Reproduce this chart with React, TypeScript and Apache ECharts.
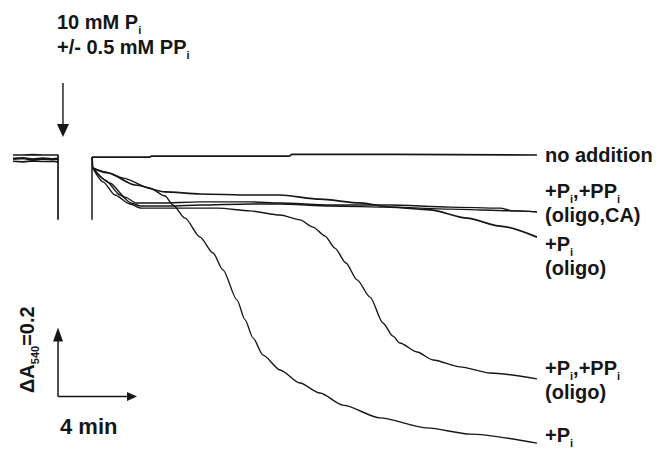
import React, { useEffect, useRef } from "react";
import * as echarts from "echarts";

const FONT = '"Liberation Sans", Arial, Helvetica, sans-serif';
const INK = "#161616";

// axis ranges: time (min, 0 = addition) and ΔA540 relative to baseline
const X_MIN = -4;
const X_MAX = 28;
const Y_MIN = -0.85;
const Y_MAX = 0.4;

// trace before the addition (several overlapping records)
const preT = [-4.0, -3.5, -3.0, -2.5, -2.0, -1.72];
const preA1 = [0.0, 0.0, 0.001, 0.0, 0.0, 0.0];
const preA2 = [-0.011, -0.009, -0.013, -0.01, -0.012, -0.011];
const preA3 = [-0.018, -0.02, -0.017, -0.019, -0.018, -0.02];
const preDropA = -0.188; // mixing artefact at the lid opening
const postStartA = -0.006;

// no addition
const noAddT = [0.0, 2.94, 3.0, 10.0, 10.1, 15.3, 22.53];
const noAddA = [-0.006, -0.006, -0.003, -0.003, 0.002, 0.002, 0.0];

// +Pi
const piT = [0.05, 0.66, 1.57, 2.94, 3.7, 4.1, 4.71, 5.47, 6.13, 6.63, 7.34, 7.75, 8.15, 8.66, 9.52, 10.53, 11.54, 12.71, 14.58, 16.96, 19.14, 22.53];
const piA = [-0.038, -0.049, -0.067, -0.096, -0.119, -0.145, -0.183, -0.238, -0.284, -0.333, -0.42, -0.478, -0.53, -0.58, -0.623, -0.661, -0.69, -0.725, -0.762, -0.791, -0.809, -0.835];

// +Pi,+PPi (oligo)
const piPpiOligoT = [0.05, 0.56, 1.16, 1.92, 2.48, 3.95, 6.38, 8.0, 9.52, 10.53, 11.19, 11.8, 12.3, 12.86, 13.42, 14.08, 14.73, 15.24, 15.59, 16.46, 17.27, 18.63, 20.15, 22.53];
const piPpiOligoA = [-0.038, -0.078, -0.116, -0.142, -0.154, -0.154, -0.154, -0.162, -0.174, -0.188, -0.209, -0.235, -0.27, -0.313, -0.362, -0.412, -0.487, -0.525, -0.545, -0.571, -0.594, -0.614, -0.632, -0.649];

// +Pi (oligo)
const piOligoT = [0.05, 0.81, 2.18, 3.7, 5.47, 8.0, 9.52, 11.54, 13.57, 15.09, 17.11, 18.99, 20.66, 22.53];
const piOligoA = [-0.038, -0.052, -0.087, -0.107, -0.113, -0.116, -0.116, -0.128, -0.139, -0.151, -0.159, -0.183, -0.206, -0.238];

// +Pi,+PPi (oligo,CA) – two overlapping records
const caAT = [0.05, 0.66, 1.42, 1.97, 2.48, 3.95, 5.47, 8.0, 9.52, 12.05, 15.09, 18.13, 21.32, 22.53];
const caAA = [-0.038, -0.072, -0.116, -0.139, -0.148, -0.148, -0.145, -0.142, -0.142, -0.148, -0.151, -0.157, -0.162, -0.165];
const caBT = [0.05, 0.91, 1.67, 2.23, 3.44, 5.47, 8.0, 9.52, 12.05, 15.09, 18.13, 20.66, 21.32, 22.53];
const caBA = [-0.038, -0.081, -0.122, -0.139, -0.139, -0.136, -0.136, -0.139, -0.145, -0.145, -0.151, -0.154, -0.162, -0.165];

// scale bar and addition arrow
const SCALE_T0 = -1.72;
const SCALE_A0 = -0.7;
const SCALE_DT = 4; // min
const SCALE_DA = 0.2; // ΔA540
const ADD_T = -1.47;
const ADD_A_FROM = 0.209;
const ADD_A_TO = 0.052;

const zip = (t: number[], a: number[]) => t.map((v, i) => [v, a[i]]);

function textRun(x: number, baseline: number, parts: [string, boolean][], fs: number, subFs: number, subDy: number, ctx?: CanvasRenderingContext2D | null) {
  let cx = x;
  const els: any[] = [];
  for (const [s, sub] of parts) {
    const f = sub ? subFs : fs;
    const font = `bold ${f}px ${FONT}`;
    let w = s.length * f * 0.55;
    if (ctx) {
      ctx.font = font;
      w = ctx.measureText(s).width;
    }
    const by = baseline + (sub ? subDy : 0);
    els.push({
      type: "text",
      x: cx,
      y: by - 0.35 * f,
      silent: true,
      style: {
        text: s,
        font,
        fill: INK,
        align: "left",
        verticalAlign: "middle",
        textAlign: "left",
        textVerticalAlign: "middle",
      },
    });
    cx += w;
  }
  return els;
}

function arrow(p0: number[], p1: number[], w: number, l: number, lw: number) {
  const dx = p1[0] - p0[0];
  const dy = p1[1] - p0[1];
  const len = Math.hypot(dx, dy);
  const ux = dx / len;
  const uy = dy / len;
  const bx = p1[0] - ux * l;
  const by = p1[1] - uy * l;
  const nx = -uy;
  const ny = ux;
  return [
    { type: "line", silent: true, shape: { x1: p0[0], y1: p0[1], x2: bx + ux, y2: by + uy }, style: { stroke: INK, lineWidth: lw } },
    {
      type: "polygon",
      silent: true,
      shape: { points: [[p1[0], p1[1]], [bx + (nx * w) / 2, by + (ny * w) / 2], [bx - (nx * w) / 2, by - (ny * w) / 2]] },
      style: { fill: INK },
    },
  ];
}

export default function App() {
  const ref = useRef<HTMLDivElement>(null);
  useEffect(() => {
    if (!ref.current) return;
    const chart = echarts.init(ref.current, undefined, { renderer: "svg" });
    const line = (data: number[][], width = 1.4, smooth: number | boolean = 0.25) => ({
      type: "line",
      data,
      showSymbol: false,
      symbol: "none",
      smooth,
      smoothMonotone: "x",
      silent: true,
      lineStyle: { color: INK, width },
    });
    const preFirst = zip(preT, preA1);
    preFirst.push([preT[preT.length - 1], preDropA]);
    chart.setOption({
      animation: false,
      backgroundColor: "#ffffff",
      grid: { left: 13, top: 17, width: 632, height: 431.25 },
      xAxis: { type: "value", min: X_MIN, max: X_MAX, show: false },
      yAxis: { type: "value", min: Y_MIN, max: Y_MAX, show: false },
      series: [
        line(preFirst, 1.7, false),
        line(zip(preT, preA2), 2.4, false),
        line(zip(preT, preA3), 1.6, false),
        line([[0, preDropA], [0, postStartA]], 1.5, false),
        line(zip(noAddT, noAddA), 1.7, false),
        line(zip(piT, piA)),
        line(zip(piPpiOligoT, piPpiOligoA)),
        line(zip(piOligoT, piOligoA), 1.7),
        line(zip(caAT, caAA)),
        line(zip(caBT, caBA)),
        line([[0, postStartA], [0.05, -0.038]], 1.4, false),
      ],
    });

    const px = (t: number, a: number) => chart.convertToPixel({ gridIndex: 0 }, [t, a]) as number[];
    const corner = px(SCALE_T0, SCALE_A0);
    const up = px(SCALE_T0, SCALE_A0 + SCALE_DA);
    const right = px(SCALE_T0 + SCALE_DT, SCALE_A0);
    const addFrom = px(ADD_T, ADD_A_FROM);
    const addTo = px(ADD_T, ADD_A_TO);

    const ctx = document.createElement("canvas").getContext("2d");
    const T = (x: number, b: number, parts: [string, boolean][], fs = 20) => textRun(x, b, parts, fs, 11, 5, ctx);

    const elements: any[] = [
      ...arrow(addFrom, addTo, 12, 13, 1.4),
      ...arrow(corner, up, 10, 14, 1.5),
      ...arrow(corner, right, 9, 10, 1.5),
      ...T(57, 29, [["10 mM P", false], ["i", true]]),
      ...T(57, 54, [["+/- 0.5 mM PP", false], ["i", true]]),
      ...T(545, 162, [["no addition", false]]),
      ...T(545, 198, [["+P", false], ["i", true], [",+PP", false], ["i", true]]),
      ...T(545, 222, [["(oligo,CA)", false]]),
      ...T(545, 251, [["+P", false], ["i", true]]),
      ...T(545, 275, [["(oligo)", false]]),
      ...T(545, 375, [["+P", false], ["i", true], [",+PP", false], ["i", true]]),
      ...T(545, 399, [["(oligo)", false]]),
      ...T(545, 442, [["+P", false], ["i", true]]),
      ...T(60, 434, [["4 min", false]], 22),
      {
        type: "group",
        x: 34,
        y: 393,
        rotation: Math.PI / 2,
        children: T(0, 0, [["\u0394A", false], ["540", true], ["=0.2", false]]),
      },
    ];
    chart.setOption({ graphic: { elements } });
    return () => chart.dispose();
  }, []);
  return <div ref={ref} style={{ position: "absolute", left: 0, top: 0, width: 670, height: 450 }} />;
}
